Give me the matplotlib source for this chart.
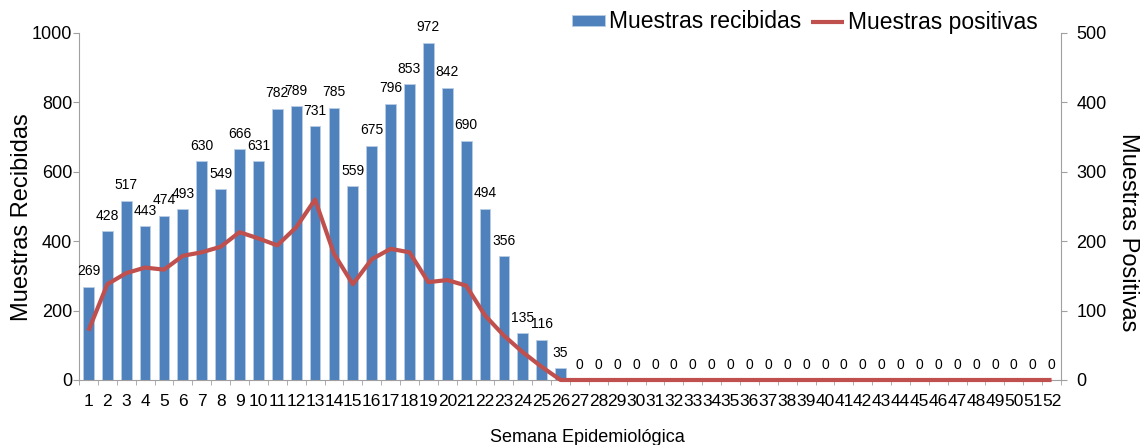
import matplotlib
matplotlib.use("Agg")
import matplotlib.pyplot as plt
import numpy as np

plt.rcParams['font.family'] = ['Liberation Sans', 'DejaVu Sans']

weeks = list(range(1, 53))
recibidas = [269, 428, 517, 443, 474, 493, 630, 549, 666, 631, 782, 789, 731, 785,
             559, 675, 796, 853, 972, 842, 690, 494, 356, 135, 116, 35] + [0] * 26
positivas = [71, 138, 154, 162, 159, 179, 184, 192, 213, 204, 194, 220, 260, 182,
             138, 174, 189, 184, 141, 144, 136, 93, 64, 40, 19, 0] + [0] * 26

bar_color = '#4F81BD'
line_color = '#C0504D'
spine_color = '#A0A0A0'

W, H = 1143, 445
fig = plt.figure(figsize=(W / 100, H / 100), dpi=100)
ax = fig.add_axes([79 / W, (H - 380) / H, (1061 - 79) / W, 347 / H])
x = np.arange(len(weeks))
ax.bar(x, recibidas, width=0.57, color=bar_color, edgecolor='#B9CDE5', linewidth=0.6,
       label='Muestras recibidas', zorder=2)
ax.set_xlim(-0.5, len(weeks) - 0.5)
ax.set_ylim(0, 1000)
ax.set_yticks(range(0, 1001, 200))
ax.tick_params(axis='y', labelsize=13, length=4.5, color=spine_color, pad=0.5)
ax.set_xticks(x)
ax.set_xticklabels([str(w) for w in weeks], fontsize=12.5)
ax.tick_params(axis='x', length=0, pad=10)
ax.set_xticks(np.arange(-0.5, len(weeks)), minor=True)
ax.tick_params(axis='x', which='minor', length=3.6, color=spine_color)
for s in ['top', 'right']:
    ax.spines[s].set_visible(False)
for s in ['left', 'bottom']:
    ax.spines[s].set_color(spine_color)

for xi, v in zip(x, recibidas):
    ax.annotate(str(v), (xi, v), xytext=(0, 6), textcoords='offset points',
                ha='center', va='bottom', fontsize=10)

ax2 = ax.twinx()
ax2.plot(x, positivas, color=line_color, linewidth=3, label='Muestras positivas',
         solid_capstyle='butt', zorder=3, clip_on=False)
ax2.set_ylim(0, 500)
ax2.set_yticks(range(0, 501, 100))
ax2.tick_params(axis='y', labelsize=13, length=4.5, color=spine_color, pad=6.5)
for s in ['top', 'left', 'bottom']:
    ax2.spines[s].set_visible(False)
ax2.spines['right'].set_color(spine_color)

fig.text(22 / W, (H - 217) / H, 'Muestras Recibidas', rotation=90, fontsize=17,
         ha='center', va='center')
fig.text(1128 / W, (H - 232) / H, 'Muestras Positivas', rotation=270, fontsize=17,
         ha='center', va='center')

h1, l1 = ax.get_legend_handles_labels()
h2, l2 = ax2.get_legend_handles_labels()
fig.legend(h1 + h2, l1 + l2, loc='center left', bbox_to_anchor=(572 / W, (H - 22) / H),
           ncol=2, frameon=False, fontsize=16.5, handlelength=1.45, handleheight=0.4,
           handletextpad=0.18, columnspacing=0.4, borderpad=0, borderaxespad=0)

fig.text(587 / W, (H - 438) / H, 'Semana Epidemiológica', ha='center', va='center',
         fontsize=13)

fig.savefig('out.png', dpi=100)
